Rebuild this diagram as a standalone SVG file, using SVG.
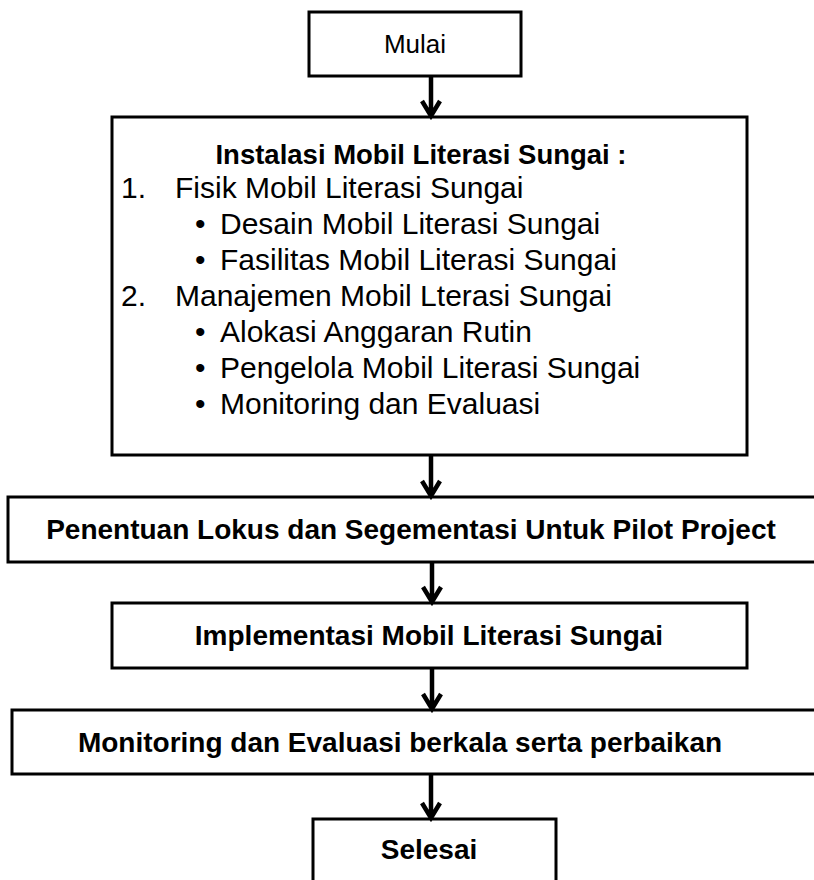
<svg xmlns="http://www.w3.org/2000/svg" width="814" height="880" viewBox="0 0 814 880">
<style>
.box{fill:#fff;stroke:#000;stroke-width:3}
.t{font-family:"Liberation Sans",Arial,sans-serif;font-size:30px;fill:#000}
.m{font-family:"Liberation Sans",Arial,sans-serif;font-size:26px;fill:#000}
.b{font-family:"Liberation Sans",Arial,sans-serif;font-size:28px;font-weight:bold;fill:#000}
.h{font-size:27.5px}
.c{text-anchor:middle}
.arr{fill:none;stroke:#000;stroke-width:4.5;stroke-linejoin:miter}
</style>
<rect width="814" height="880" fill="#fff"/>
<g id="mulai"><rect class="box" x="309" y="12" width="212" height="64"/><text class="m c" x="415" y="53">Mulai</text></g>
<g id="instalasi"><rect class="box" x="112" y="117" width="635" height="338"/>
<text class="b h c" x="421" y="164">Instalasi Mobil Literasi Sungai :</text>
<text class="t" x="121" y="198">1.</text><text class="t" x="175" y="198">Fisik Mobil Literasi Sungai</text>
<text class="t" x="195" y="234">•</text><text class="t" x="220" y="234">Desain Mobil Literasi Sungai</text>
<text class="t" x="195" y="270">•</text><text class="t" x="220" y="270">Fasilitas Mobil Literasi Sungai</text>
<text class="t" x="121" y="306">2.</text><text class="t" x="175" y="306">Manajemen Mobil Lterasi Sungai</text>
<text class="t" x="195" y="342">•</text><text class="t" x="220" y="342">Alokasi Anggaran Rutin</text>
<text class="t" x="195" y="378">•</text><text class="t" x="220" y="378">Pengelola Mobil Literasi Sungai</text>
<text class="t" x="195" y="414">•</text><text class="t" x="220" y="414">Monitoring dan Evaluasi</text>
</g>
<g id="penentuan"><rect class="box" x="8" y="497" width="830" height="65"/><text class="b c" x="411" y="539">Penentuan Lokus dan Segementasi Untuk Pilot Project</text></g>
<g id="implementasi"><rect class="box" x="112" y="603" width="635" height="65"/><text class="b c" x="429" y="645">Implementasi Mobil Literasi Sungai</text></g>
<g id="monitoring"><rect class="box" x="12" y="710" width="826" height="64"/><text class="b c" x="400" y="752">Monitoring dan Evaluasi berkala serta perbaikan</text></g>
<g id="selesai"><rect class="box" x="313" y="819" width="243" height="80"/><text class="b c" x="429" y="859">Selesai</text></g>
<g id="connectors">
<path class="arr" d="M431 76V115M422 101L431 116L440 101"/>
<path class="arr" d="M431 455V495M422 481L431 496L440 481"/>
<path class="arr" d="M432 562V601M423 587L432 602L441 587"/>
<path class="arr" d="M432 668V708M423 694L432 709L441 694"/>
<path class="arr" d="M431 774V817M422 803L431 818L440 803"/>
</g>
</svg>
